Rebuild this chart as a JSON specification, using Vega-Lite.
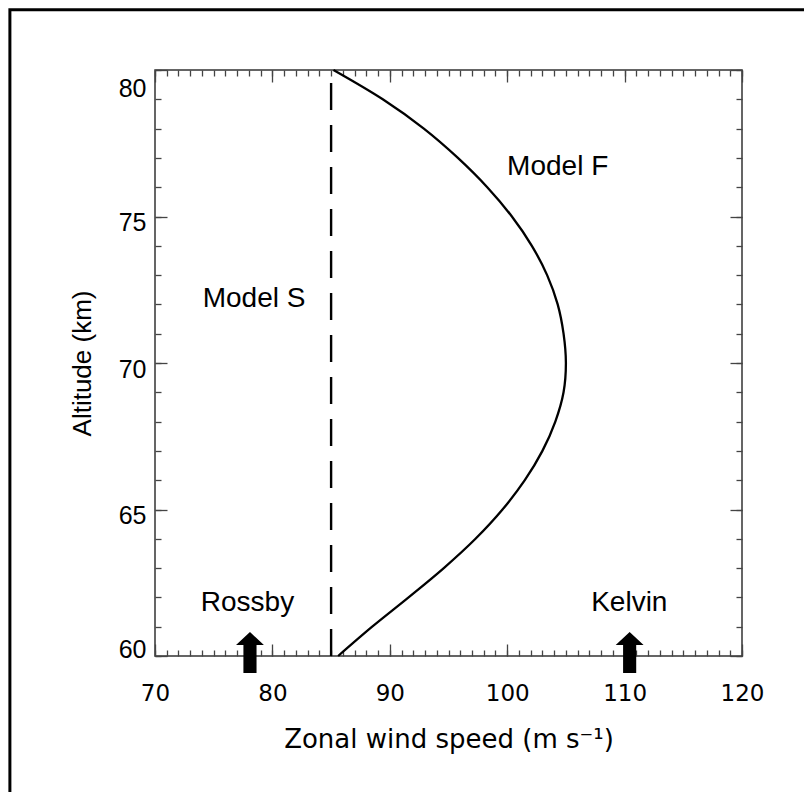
{
  "$schema": "https://vega.github.io/schema/vega-lite/v6.json",
  "width": 587,
  "height": 586,
  "autosize": {"type": "none"},
  "padding": {"left": 155, "top": 70, "right": 62, "bottom": 136},
  "background": "#ffffff",
  "config": {
    "view": {"stroke": "#333333", "strokeWidth": 1.5},
    "axis": {"domain": false, "grid": false, "tickColor": "#444444", "tickWidth": 1.3, "labelColor": "#000000", "titleColor": "#000000", "titleFontWeight": "normal"}
  },
  "resolve": {"scale": {"x": "shared", "y": "shared"}, "axis": {"x": "independent", "y": "independent"}},
  "layer": [
    {
      "data": {"values": [{"u1": 57.64, "u2": 135, "z1": 82.06, "z2": 54}]},
      "mark": {"type": "rect", "fill": null, "stroke": "#000000", "strokeWidth": 3, "clip": false},
      "encoding": {
        "x": {"field": "u1", "type": "quantitative", "scale": {"domain": [70, 120], "nice": false, "zero": false}, "axis": null},
        "x2": {"field": "u2"},
        "y": {"field": "z1", "type": "quantitative", "scale": {"domain": [60, 80], "nice": false, "zero": false}, "axis": null},
        "y2": {"field": "z2"}
      }
    },
    {
      "data": {"values": [
        {"z": 60, "u": 85.6}, {"z": 61, "u": 88.5}, {"z": 62, "u": 91.6}, {"z": 63, "u": 94.6},
        {"z": 64, "u": 97.3}, {"z": 65, "u": 99.6}, {"z": 66, "u": 101.5}, {"z": 67, "u": 103.0},
        {"z": 68, "u": 104.1}, {"z": 69, "u": 104.8}, {"z": 70, "u": 105.0}, {"z": 71, "u": 104.8},
        {"z": 72, "u": 104.3}, {"z": 73, "u": 103.4}, {"z": 74, "u": 102.1}, {"z": 75, "u": 100.4},
        {"z": 76, "u": 98.3}, {"z": 77, "u": 95.8}, {"z": 78, "u": 92.9}, {"z": 79, "u": 89.4},
        {"z": 80, "u": 85.2}
      ]},
      "mark": {"type": "line", "interpolate": "catmull-rom", "color": "#000000", "strokeWidth": 2.3},
      "encoding": {
        "x": {"field": "u", "type": "quantitative", "scale": {"domain": [70, 120], "nice": false, "zero": false},
          "axis": {"orient": "bottom", "values": [70, 80, 90, 100, 110, 120], "tickSize": -12, "labelPadding": 38,
            "labelFont": "DejaVu Sans", "labelFontSize": 23, "labelFlush": false,
            "title": "Zonal wind speed (m s⁻¹)", "titleFont": "DejaVu Sans", "titleFontSize": 26, "titlePadding": 21}},
        "y": {"field": "z", "type": "quantitative", "scale": {"domain": [60, 80], "nice": false, "zero": false},
          "axis": {"orient": "left", "values": [60, 65, 70, 75, 80], "tickSize": -12, "labelPadding": 21,
            "labelFont": "Liberation Sans", "labelFontSize": 25, "labelFlush": true, "labelOffset": 6,
            "title": "Altitude (km)", "titleFont": "Liberation Sans", "titleFontSize": 26, "titlePadding": 23}},
        "order": {"field": "z", "type": "quantitative"}
      }
    },
    {
      "data": {"values": [{"u": 85, "z1": 60, "z2": 80}]},
      "mark": {"type": "rule", "color": "#000000", "strokeWidth": 2.4, "strokeDash": [27, 15]},
      "encoding": {
        "x": {"field": "u", "type": "quantitative", "scale": {"domain": [70, 120], "nice": false, "zero": false},
          "axis": {"orient": "top", "values": [70, 80, 90, 100, 110, 120], "tickSize": -12, "labels": false, "title": null}},
        "y": {"field": "z1", "type": "quantitative", "scale": {"domain": [60, 80], "nice": false, "zero": false},
          "axis": {"orient": "right", "values": [60, 65, 70, 75, 80], "tickSize": -12, "labels": false, "title": null}},
        "y2": {"field": "z2"}
      }
    },
    {
      "data": {"values": [
        {"label": "Model F", "u": 104.3, "z": 76.4},
        {"label": "Model S", "u": 78.44, "z": 71.9},
        {"label": "Rossby", "u": 77.88, "z": 61.55},
        {"label": "Kelvin", "u": 110.4, "z": 61.55}
      ]},
      "mark": {"type": "text", "font": "Liberation Sans", "fontSize": 28, "align": "center", "baseline": "alphabetic", "color": "#000000"},
      "encoding": {
        "x": {"field": "u", "type": "quantitative", "scale": {"domain": [70, 120], "nice": false, "zero": false},
          "axis": {"orient": "bottom", "values": [70,71,72,73,74,75,76,77,78,79,80,81,82,83,84,85,86,87,88,89,90,91,92,93,94,95,96,97,98,99,100,101,102,103,104,105,106,107,108,109,110,111,112,113,114,115,116,117,118,119,120], "tickSize": -6, "labels": false, "title": null}},
        "y": {"field": "z", "type": "quantitative", "scale": {"domain": [60, 80], "nice": false, "zero": false},
          "axis": {"orient": "left", "values": [60,61,62,63,64,65,66,67,68,69,70,71,72,73,74,75,76,77,78,79,80], "tickSize": -6, "labels": false, "title": null}},
        "text": {"field": "label"}
      }
    },
    {
      "data": {"values": [
        {"wave": "Rossby", "u": 78.09, "z": 60.12},
        {"wave": "Kelvin", "u": 110.43, "z": 60.12}
      ]},
      "mark": {"type": "point", "filled": true, "color": "#000000", "opacity": 1, "size": 1681, "clip": false,
        "shape": "M0,-1 L0.68,-0.36 L0.32,-0.36 L0.32,1 L-0.32,1 L-0.32,-0.36 L-0.68,-0.36 Z"},
      "encoding": {
        "x": {"field": "u", "type": "quantitative", "scale": {"domain": [70, 120], "nice": false, "zero": false},
          "axis": {"orient": "top", "values": [70,71,72,73,74,75,76,77,78,79,80,81,82,83,84,85,86,87,88,89,90,91,92,93,94,95,96,97,98,99,100,101,102,103,104,105,106,107,108,109,110,111,112,113,114,115,116,117,118,119,120], "tickSize": -6, "labels": false, "title": null}},
        "y": {"field": "z", "type": "quantitative", "scale": {"domain": [60, 80], "nice": false, "zero": false},
          "axis": {"orient": "right", "values": [60,61,62,63,64,65,66,67,68,69,70,71,72,73,74,75,76,77,78,79,80], "tickSize": -6, "labels": false, "title": null}}
      }
    }
  ]
}
